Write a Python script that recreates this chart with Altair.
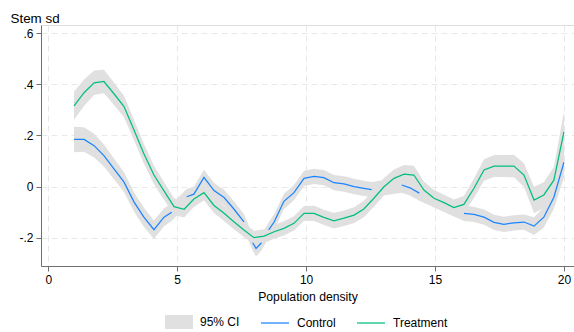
import altair as alt
import pandas as pd

# ---------------- data ----------------
x_grid = [1.00, 1.39, 1.78, 2.16, 2.55, 2.94, 3.33, 3.71, 4.10, 4.49,
          4.88, 5.27, 5.65, 6.04, 6.43, 6.82, 7.20, 7.59, 7.98, 8.37,
          8.76, 9.14, 9.53, 9.92, 10.31, 10.69, 11.08, 11.47, 11.86, 12.24,
          12.63, 13.02, 13.41, 13.80, 14.18, 14.57, 14.96, 15.35, 15.73, 16.12,
          16.51, 16.90, 17.29, 17.67, 18.06, 18.45, 18.84, 19.22, 19.61, 20.00]

treat_y = [0.316, 0.367, 0.406, 0.411, 0.363, 0.313, 0.220, 0.128, 0.045, -0.017,
           -0.079, -0.089, -0.049, -0.024, -0.074, -0.105, -0.138, -0.170, -0.200, -0.194,
           -0.177, -0.164, -0.144, -0.105, -0.105, -0.121, -0.134, -0.124, -0.112, -0.088,
           -0.046, -0.001, 0.032, 0.048, 0.045, -0.014, -0.046, -0.063, -0.082, -0.070,
           -0.007, 0.065, 0.080, 0.080, 0.080, 0.045, -0.053, -0.033, 0.025, 0.214]

treat_ci = [0.055, 0.052, 0.048, 0.046, 0.044, 0.042, 0.040, 0.038, 0.036, 0.035,
            0.033, 0.032, 0.031, 0.030, 0.030, 0.030, 0.029, 0.028, 0.027, 0.027,
            0.027, 0.028, 0.028, 0.029, 0.030, 0.030, 0.030, 0.030, 0.031, 0.032,
            0.033, 0.034, 0.035, 0.036, 0.036, 0.034, 0.032, 0.031, 0.031, 0.033,
            0.038, 0.042, 0.043, 0.043, 0.044, 0.046, 0.052, 0.050, 0.052, 0.080]

# Control has gaps in its line (None marks a break)
ctrl_x = [1.00, 1.39, 1.78, 2.16, 2.55, 2.94, 3.33, 3.71, 4.10, 4.49, 4.79, None,
          5.37, 5.65, 6.04, 6.43, 6.82, 7.20, 7.59, None,
          7.93, 8.06, 8.27, None,
          8.55, 8.76, 9.14, 9.53, 9.92, 10.31, 10.69, 11.08, 11.47, 11.86, 12.24, 12.54, None,
          13.71, 14.03, 14.39, None,
          16.12, 16.51, 16.90, 17.29, 17.67, 18.06, 18.45, 18.84, 19.22, 19.61, 20.00]

ctrl_y = [0.184, 0.184, 0.160, 0.121, 0.069, 0.017, -0.061, -0.120, -0.169, -0.120, -0.101, None,
          -0.040, -0.030, 0.036, -0.016, -0.043, -0.088, -0.138, None,
          -0.220, -0.242, -0.220, None,
          -0.170, -0.139, -0.058, -0.024, 0.032, 0.040, 0.035, 0.015, 0.010, 0.000, -0.007, -0.012, None,
          0.006, -0.005, -0.026, None,
          -0.105, -0.109, -0.120, -0.140, -0.148, -0.142, -0.139, -0.155, -0.120, -0.042, 0.095]

ctrl_ci = [0.050, 0.048, 0.046, 0.043, 0.041, 0.039, 0.038, 0.037, 0.036, 0.035, 0.034, None,
           0.030, 0.030, 0.030, 0.030, 0.030, 0.030, 0.030, None,
           0.030, 0.032, 0.030, None,
           0.030, 0.030, 0.030, 0.030, 0.030, 0.030, 0.030, 0.030, 0.030, 0.030, 0.030, 0.030, None,
           0.030, 0.030, 0.030, None,
           0.030, 0.030, 0.030, 0.030, 0.030, 0.030, 0.030, 0.035, 0.040, 0.045, 0.060]

x_ticks = [0, 5, 10, 15, 20]
y_ticks = [-0.2, 0.0, 0.2, 0.4, 0.6]
band_key = ["95% CI"]
line_keys = ["Control", "Treatment"]

# ---------------- styling ----------------
BAND = "#e0e0e0"
BLUE = "#1a85ff"
GREEN = "#00bf7f"
FONT = "Liberation Sans"
AXIS_COL = "#707070"
GRID_COL = "#e8e8e8"
LINE_W = 1.25

# ---------------- build tables ----------------
band_rows, line_rows = [], []


def add(series, xs, ys, cis):
    seg = 0
    for xv, yv, cv in zip(xs, ys, cis):
        if yv is None:
            seg += 1
            continue
        band_rows.append({"x": xv, "lo": yv - cv, "hi": yv + cv, "key": "95% CI", "grp": series})
        line_rows.append({"x": xv, "y": yv, "key": series, "grp": f"{series}-{seg}"})


add("Control", ctrl_x, ctrl_y, ctrl_ci)
add("Treatment", x_grid, treat_y, treat_ci)
band_df = pd.DataFrame(band_rows)
line_df = pd.DataFrame(line_rows)

xscale = alt.Scale(domain=[-0.28, 20.39], nice=False, zero=False)
yscale = alt.Scale(domain=[-0.311, 0.632], nice=False, zero=False)

LEG_Y = 283
band_legend = alt.Legend(
    orient="none", legendX=124, legendY=LEG_Y, direction="horizontal", title=None,
    symbolType="M-1,-0.5H1V0.5H-1Z", symbolSize=784, symbolStrokeWidth=0,
    symbolOpacity=1,
    labelFont=FONT, labelFontSize=12, labelColor="#000000", labelOffset=7, padding=0,
)
line_legend = alt.Legend(
    orient="none", legendX=219, legendY=LEG_Y, direction="horizontal", title=None,
    symbolType="stroke", symbolSize=784, symbolStrokeWidth=LINE_W, symbolOpacity=1,
    labelFont=FONT, labelFontSize=12, labelColor="#000000", labelOffset=7,
    columnPadding=18, padding=0,
)

xaxis = alt.Axis(values=x_ticks, format="d", title="Population density",
                 titleFont=FONT, titleFontSize=12.2, titleFontWeight="normal", titleColor="#000000",
                 titleBaseline="alphabetic", titleY=34,
                 labelFont=FONT, labelFontSize=12, labelColor="#000000", labelPadding=3.5,
                 tickSize=5, tickColor=AXIS_COL, domainColor=AXIS_COL,
                 grid=True, gridDash=[6, 4], gridColor=GRID_COL, gridWidth=1)

yaxis = alt.Axis(values=y_ticks, title="Stem sd",
                 labelExpr="datum.value == 0 ? '0' : (datum.value < 0 ? '-' : '') + slice(format(abs(datum.value), '.1f'), 1)",
                 titleFont=FONT, titleFontSize=13.4, titleFontWeight="normal", titleColor="#000000",
                 titleAngle=0, titleAlign="left", titleBaseline="alphabetic", titleX=-31, titleY=-2.5,
                 labelFont=FONT, labelFontSize=12, labelColor="#000000", labelPadding=3,
                 tickSize=5, tickColor=AXIS_COL, domainColor=AXIS_COL,
                 grid=True, gridDash=[6, 4], gridColor=GRID_COL, gridWidth=1)

X = alt.X("x:Q", scale=xscale, axis=xaxis)
stroke = alt.Stroke("key:N", scale=alt.Scale(domain=line_keys, range=[BLUE, GREEN]), legend=line_legend)

band = alt.Chart(band_df).mark_area(opacity=1).encode(
    x=X,
    y=alt.Y("lo:Q", scale=yscale, axis=yaxis),
    y2="hi:Q",
    fill=alt.Fill("key:N", scale=alt.Scale(domain=band_key, range=[BAND]), legend=band_legend),
    detail="grp:N",
)

ctrl_line = alt.Chart(line_df[line_df.key == "Control"]).mark_line(strokeWidth=LINE_W).encode(
    x=X, y=alt.Y("y:Q", scale=yscale, axis=yaxis), stroke=stroke, detail="grp:N")

treat_line = alt.Chart(line_df[line_df.key == "Treatment"]).mark_line(strokeWidth=LINE_W).encode(
    x=X, y=alt.Y("y:Q", scale=yscale, axis=yaxis), stroke=stroke, detail="grp:N")

chart = alt.layer(band, ctrl_line, treat_line).properties(
    width=533, height=241,
    padding={"left": 41, "top": 25, "right": 0, "bottom": 66},
    autosize=alt.AutoSizeParams(type="none"),
).configure_view(stroke=None).configure(background="white")

chart.save("out.html", embed_options={"renderer": "svg", "actions": False})
